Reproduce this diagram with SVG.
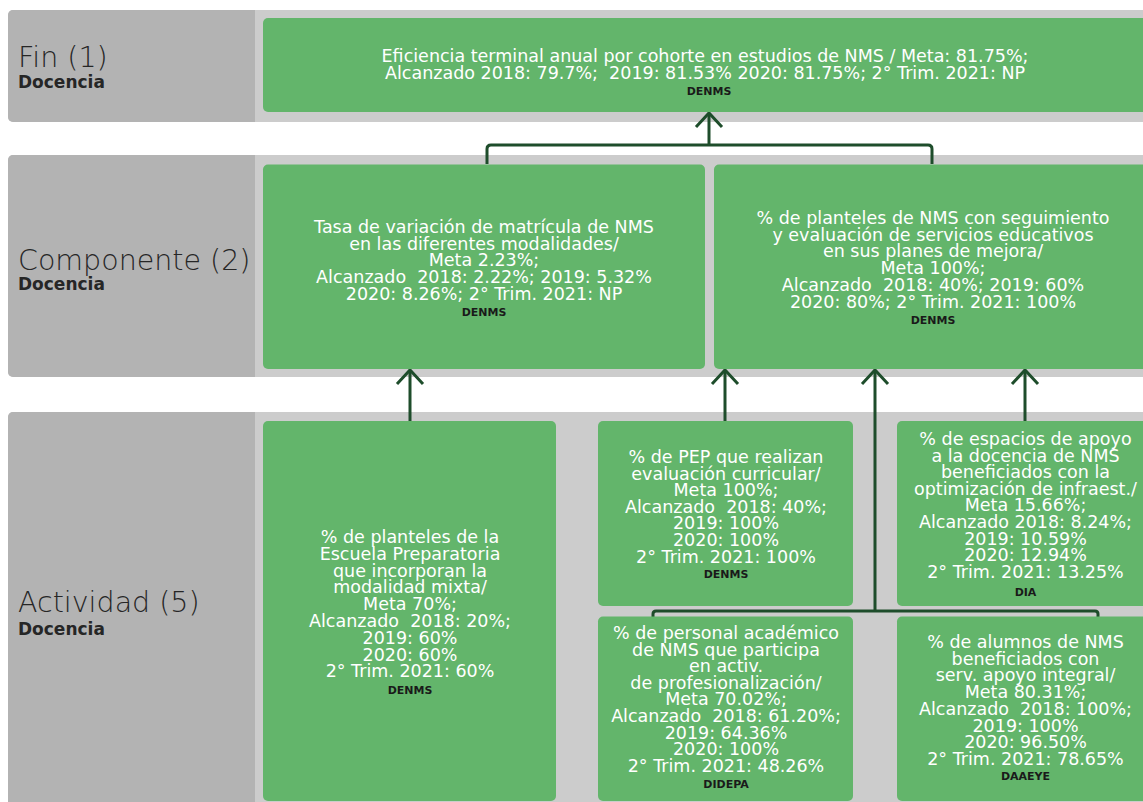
<svg xmlns="http://www.w3.org/2000/svg" width="1143" height="802" viewBox="0 0 1143 802">
  <style>
    .band { fill: #cccccc; }
    .lab { fill: #b3b3b3; }
    .box { fill: #63b56b; }
    .title { font-family: "DejaVu Sans", "Liberation Sans", sans-serif; font-size: 28.5px; font-weight: 200; fill: #262626; }
    .sub { font-family: "DejaVu Sans", "Liberation Sans", sans-serif; font-size: 17px; font-weight: bold; fill: #262626; }
    .t { font-family: "DejaVu Sans", "Liberation Sans", sans-serif; font-size: 17.5px; fill: #ffffff; text-anchor: middle; }
    .src { font-family: "DejaVu Sans", "Liberation Sans", sans-serif; font-size: 11px; font-weight: bold; fill: #1a1a1a; text-anchor: middle; }
    .con { fill: none; stroke: #1e4d2b; stroke-width: 3; }
    .arr { marker-end: url(#chev); }
  </style>
  <defs>
    <marker id="chev" markerUnits="userSpaceOnUse" markerWidth="40" markerHeight="40" refX="0" refY="0" orient="auto" viewBox="-20 -20 40 40" overflow="visible">
      <path d="M -14 -13 L 0 0 L -14 13" fill="none" stroke="#1e4d2b" stroke-width="3"/>
    </marker>
  </defs>

  <!-- bands -->
  <g id="band-fin">
    <rect class="band" x="8" y="10" width="1150" height="112" rx="5"/>
    <path class="lab" d="M 13 10 H 255 V 122 H 13 A 5 5 0 0 1 8 117 V 15 A 5 5 0 0 1 13 10 Z"/>
    <text class="title" x="18" y="67">Fin (1)</text>
    <text class="sub" x="18" y="88">Docencia</text>
  </g>
  <g id="band-componente">
    <rect class="band" x="8" y="155" width="1150" height="222" rx="5"/>
    <path class="lab" d="M 13 155 H 255 V 377 H 13 A 5 5 0 0 1 8 372 V 160 A 5 5 0 0 1 13 155 Z"/>
    <text class="title" x="18" y="270">Componente (2)</text>
    <text class="sub" x="18" y="290">Docencia</text>
  </g>
  <g id="band-actividad">
    <rect class="band" x="8" y="412" width="1150" height="400" rx="5"/>
    <path class="lab" d="M 13 412 H 255 V 812 H 8 V 417 A 5 5 0 0 1 13 412 Z"/>
    <text class="title" x="18" y="612">Actividad (5)</text>
    <text class="sub" x="18" y="635">Docencia</text>
  </g>

  <!-- connectors -->
  <g id="connectors">
    <path class="con" d="M 487 164 V 149 Q 487 145 491 145 H 928 Q 932 145 932 149 V 164"/>
    <path class="con arr" d="M 709 145 V 113"/>
    <path class="con arr" d="M 410 421 V 370"/>
    <path class="con arr" d="M 725 421 V 370"/>
    <path class="con arr" d="M 875 611 V 370"/>
    <path class="con arr" d="M 1025 421 V 370"/>
    <path class="con" d="M 653 617 V 614 Q 653 611 656 611 H 1095 Q 1098 611 1098 614 V 617"/>
  </g>

  <!-- nodes -->
  <g id="fin">
    <rect class="box" x="263" y="18" width="889" height="94" rx="5"/>
    <text class="t" x="705" y="62">Eficiencia terminal anual por cohorte en estudios de NMS / Meta: 81.75%;<tspan x="705" dy="16.5" xml:space="preserve">Alcanzado 2018: 79.7%;  2019: 81.53% 2020: 81.75%; 2° Trim. 2021: NP</tspan></text>
    <text class="src" x="709" y="95">DENMS</text>
  </g>

  <g id="comp1">
    <rect class="box" x="263" y="164.5" width="442" height="204.5" rx="5"/>
    <text class="t" x="484" y="233">Tasa de variación de matrícula de NMS<tspan x="484" dy="16.7">en las diferentes modalidades/</tspan><tspan x="484" dy="16.7">Meta 2.23%;</tspan><tspan x="484" dy="16.7" xml:space="preserve">Alcanzado  2018: 2.22%; 2019: 5.32%</tspan><tspan x="484" dy="16.7">2020: 8.26%; 2° Trim. 2021: NP</tspan></text>
    <text class="src" x="484" y="316">DENMS</text>
  </g>

  <g id="comp2">
    <rect class="box" x="714" y="164.5" width="438" height="204.5" rx="5"/>
    <text class="t" x="933" y="224">% de planteles de NMS con seguimiento<tspan x="933" dy="16.7">y evaluación de servicios educativos</tspan><tspan x="933" dy="16.7">en sus planes de mejora/</tspan><tspan x="933" dy="16.7">Meta 100%;</tspan><tspan x="933" dy="16.7" xml:space="preserve">Alcanzado  2018: 40%; 2019: 60%</tspan><tspan x="933" dy="16.7">2020: 80%; 2° Trim. 2021: 100%</tspan></text>
    <text class="src" x="933" y="324">DENMS</text>
  </g>

  <g id="act1">
    <rect class="box" x="263" y="421" width="293" height="380" rx="5"/>
    <text class="t" x="410" y="543">% de planteles de la<tspan x="410" dy="16.8">Escuela Preparatoria</tspan><tspan x="410" dy="16.8">que incorporan la</tspan><tspan x="410" dy="16.8">modalidad mixta/</tspan><tspan x="410" dy="16.8">Meta 70%;</tspan><tspan x="410" dy="16.8" xml:space="preserve">Alcanzado  2018: 20%;</tspan><tspan x="410" dy="16.8">2019: 60%</tspan><tspan x="410" dy="16.8">2020: 60%</tspan><tspan x="410" dy="16.8">2° Trim. 2021: 60%</tspan></text>
    <text class="src" x="410" y="694">DENMS</text>
  </g>

  <g id="act2">
    <rect class="box" x="598" y="421" width="255" height="185" rx="5"/>
    <text class="t" x="726" y="463">% de PEP que realizan<tspan x="726" dy="16.6">evaluación curricular/</tspan><tspan x="726" dy="16.6">Meta 100%;</tspan><tspan x="726" dy="16.6" xml:space="preserve">Alcanzado  2018: 40%;</tspan><tspan x="726" dy="16.6">2019: 100%</tspan><tspan x="726" dy="16.6">2020: 100%</tspan><tspan x="726" dy="16.6">2° Trim. 2021: 100%</tspan></text>
    <text class="src" x="726" y="578">DENMS</text>
  </g>

  <g id="act3">
    <rect class="box" x="598" y="616.5" width="255" height="184.5" rx="5"/>
    <text class="t" x="726" y="639">% de personal académico<tspan x="726" dy="16.6">de NMS que participa</tspan><tspan x="726" dy="16.6">en activ.</tspan><tspan x="726" dy="16.6">de profesionalización/</tspan><tspan x="726" dy="16.6">Meta 70.02%;</tspan><tspan x="726" dy="16.6" xml:space="preserve">Alcanzado  2018: 61.20%;</tspan><tspan x="726" dy="16.6">2019: 64.36%</tspan><tspan x="726" dy="16.6">2020: 100%</tspan><tspan x="726" dy="16.6">2° Trim. 2021: 48.26%</tspan></text>
    <text class="src" x="726" y="788">DIDEPA</text>
  </g>

  <g id="act4">
    <rect class="box" x="897" y="421" width="257" height="185" rx="5"/>
    <text class="t" x="1025.5" y="445">% de espacios de apoyo<tspan x="1025.5" dy="16.6">a la docencia de NMS</tspan><tspan x="1025.5" dy="16.6">beneficiados con la</tspan><tspan x="1025.5" dy="16.6">optimización de infraest./</tspan><tspan x="1025.5" dy="16.6">Meta 15.66%;</tspan><tspan x="1025.5" dy="16.6">Alcanzado 2018: 8.24%;</tspan><tspan x="1025.5" dy="16.6">2019: 10.59%</tspan><tspan x="1025.5" dy="16.6">2020: 12.94%</tspan><tspan x="1025.5" dy="16.6">2° Trim. 2021: 13.25%</tspan></text>
    <text class="src" x="1025.5" y="596">DIA</text>
  </g>

  <g id="act5">
    <rect class="box" x="897" y="616.5" width="257" height="184.5" rx="5"/>
    <text class="t" x="1025.5" y="648">% de alumnos de NMS<tspan x="1025.5" dy="16.7">beneficiados con</tspan><tspan x="1025.5" dy="16.7">serv. apoyo integral/</tspan><tspan x="1025.5" dy="16.7">Meta 80.31%;</tspan><tspan x="1025.5" dy="16.7" xml:space="preserve">Alcanzado  2018: 100%;</tspan><tspan x="1025.5" dy="16.7">2019: 100%</tspan><tspan x="1025.5" dy="16.7">2020: 96.50%</tspan><tspan x="1025.5" dy="16.7">2° Trim. 2021: 78.65%</tspan></text>
    <text class="src" x="1025.5" y="780">DAAEYE</text>
  </g>
</svg>
